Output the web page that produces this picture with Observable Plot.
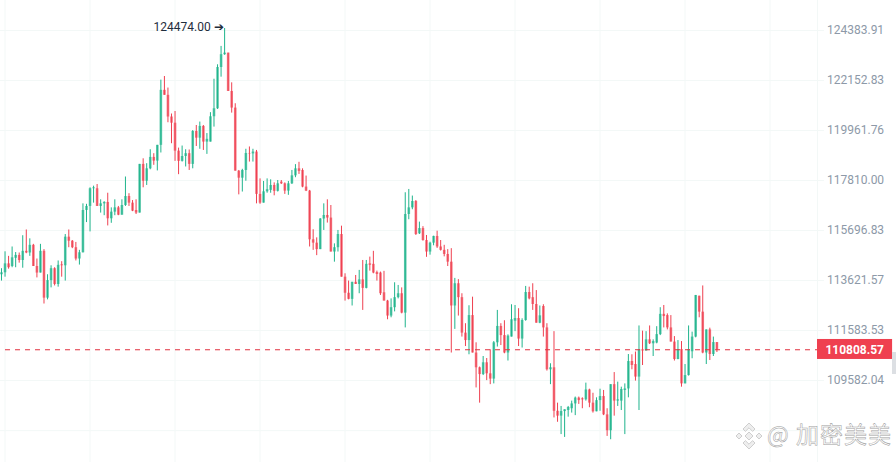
<!DOCTYPE html>
<html><head><meta charset="utf-8">
<script src="https://cdn.jsdelivr.net/npm/d3@7"></script>
<script src="https://cdn.jsdelivr.net/npm/@observablehq/plot@0.6"></script>
<style>
html,body{margin:0;padding:0;background:#fff;width:896px;height:462px;overflow:hidden}
#wrap{position:relative;width:896px;height:462px}
#wrap svg.plot{display:block}
#scroll{position:absolute;left:892px;top:352px;width:4px;height:22px;background:#dcdfe3}
#mark{position:absolute;left:767px;top:418px;font:23px/30px "Noto Sans CJK SC","Roboto",sans-serif;color:#fff;-webkit-text-stroke:0.5px #9d9d9d;letter-spacing:1px;white-space:nowrap}
#logo{position:absolute;left:735px;top:422px}
</style></head><body>
<div id="wrap">
<svg id="logo" width="28" height="28" viewBox="0 0 28 28"><g fill="#eeeeee" stroke="#c4c4c4" stroke-width=".8"><path d="M14 1l6 6-2.4 2.4L14 5.8l-3.6 3.6L8 7z"/><path d="M14 27l6-6-2.4-2.4-3.6 3.6-3.6-3.6L8 21z"/><path d="M1 14l3-3 3 3-3 3z"/><path d="M27 14l-3-3-3 3 3 3z"/><path d="M14 10l4 4-4 4-4-4z"/></g></svg>
<div id="mark">@ 加密美美</div>
<div id="scroll"></div>
</div>
<script>
const opens=[113860,113940,114310,114200,114540,114660,114450,114830,114760,115080,
114200,113930,114830,112900,113620,114110,113460,114270,114230,115420,
115250,114980,114510,114770,116540,116710,117460,117460,116710,116820,
116880,116190,116470,116650,116340,116750,117130,116850,116540,116430,
118500,117780,118310,118800,118640,119320,121720,121500,120550,120280,
119070,118630,118840,118960,118500,119920,119630,120140,119460,119460,
120560,120910,122730,123300,123370,121670,120940,118210,117910,118240,
118970,118950,119030,117220,116850,117330,117390,117600,117350,117740,
117670,117360,117670,118010,118310,118240,117530,117360,115310,115170,
114900,116180,116330,116220,114800,114980,115530,113760,113100,112850,
113550,113460,113650,113300,114310,114290,113950,113930,113120,112780,
112170,112510,112920,113080,112290,116370,116650,116920,115560,115780,
115280,114800,115170,115450,115010,114870,114700,114380,112580,113490,
112920,111480,111180,112190,110680,110090,109820,110290,109850,109640,
111090,111750,111380,110680,111320,111960,112070,111240,111990,113130,
112920,112640,111880,112560,111690,110010,110090,108370,108180,108360,
108400,108470,108660,108890,108860,108820,109210,108690,108350,108790,
108950,108230,107610,109420,108770,108770,109190,109250,110340,110220,
109720,110810,110760,111210,111050,111080,111420,112240,112190,111690,
111120,110420,110820,109450,109780,110730,111320,112980,112330,110680,
111610,110620,111100];
const closes=[113940,114310,114150,114560,114660,114450,114830,114760,115080,114200,
113930,114830,112900,113620,114110,113460,114250,114230,115420,115250,
114980,114510,114770,116540,116710,117460,117500,116710,116820,116880,
116190,116470,116650,116340,116750,117130,116850,116510,116430,118500,
117780,118310,118800,118640,119320,121720,121500,120550,120280,119070,
118630,118840,118960,118500,119920,119630,120140,119460,119580,120560,
120910,122730,123300,123370,121670,120940,118210,117910,118240,118970,
118950,119030,117220,116850,117330,117420,117600,117350,117670,117670,
117360,117670,118010,118310,118200,117530,117360,115310,115170,114900,
116180,116330,116220,114800,114980,115530,113760,113100,112850,113550,
113460,113650,113300,114290,114250,113930,113870,113080,112780,112170,
112510,112920,113080,112290,116370,116650,116920,115530,115780,115280,
114800,115170,115450,115010,114870,114700,114380,112580,113490,112920,
111480,111180,112190,110680,110090,109820,110290,109850,109640,111090,
111750,111380,110680,111360,112020,112070,111240,111990,113130,112870,
112640,111880,112180,111690,110010,110090,108370,108180,108360,108430,
108520,108660,108890,108790,108820,109210,108690,108350,108790,108950,
108230,107610,109420,108770,108820,109230,109250,110340,110180,109720,
110810,110760,111210,111050,111140,111420,112240,112150,111690,111120,
110420,110820,109450,109780,110820,111320,113010,112330,110680,111610,
110620,111100,110808.57];
const highs=[114110,114810,114620,115010,114780,114760,115480,115720,115350,115120,
114510,115120,114900,113860,114230,114150,114430,114400,115530,115720,
115280,115200,114870,116820,116800,117500,117570,117640,116990,116910,
117270,116650,116990,116710,116990,117960,117250,116960,116990,118500,
118740,118530,119130,118960,119320,122170,122330,121820,120680,120790,
119200,119290,119130,119120,119960,120180,120330,120180,119830,120740,
122210,122850,123670,124474,123370,122050,121130,118240,118290,119150,
119250,119150,119100,117880,117770,117880,117840,117710,117810,117810,
117710,117770,118240,118490,118590,118310,118000,117390,115730,115390,
116200,116820,116990,116750,115140,115700,115880,113900,113600,113550,
113830,114040,114450,114450,114590,114830,114010,113970,114000,112810,
112870,113530,113420,113320,117290,117430,117150,116960,116050,115860,
115490,115210,115460,115670,115280,115080,114900,114940,113710,113660,
113080,111860,112590,112940,111090,110120,110540,110460,110810,111140,
112400,111860,111980,111410,112630,112600,112470,112060,113380,113350,
113490,113210,112580,112630,111860,110250,111540,108690,108560,108430,
108560,108770,108930,108930,108900,109480,109240,109080,108900,109240,
109190,108470,109420,109900,109520,109320,109450,110620,110610,110720,
111770,111560,111540,111770,111210,111740,112510,112600,112260,112190,
111340,111180,111140,110220,111770,111520,113010,112980,113400,111610,
111680,111320,111100];
const lows=[113600,113760,114090,114150,114150,114340,114130,114730,114620,114200,
113730,113930,112660,112830,113320,113400,113350,113760,113600,114980,
114940,114430,114260,114760,116030,115640,116850,116710,116430,116320,
115890,116000,116320,116320,116340,116710,116710,116490,116370,116430,
117500,117600,118270,118460,118220,118990,121500,120300,119390,118630,
118060,118600,118390,118240,118310,119270,119150,119100,118930,119460,
120110,120880,122300,123270,121670,120720,118210,117200,117320,117780,
118600,118600,116820,116800,116850,117270,117270,117160,117320,117640,
117220,117180,117640,117930,118070,117500,117340,115010,114870,114650,
114900,115700,116010,114800,114380,114800,113760,112780,112830,112580,
113460,113080,112400,113280,114010,113900,113600,113010,112780,112020,
112100,112340,112870,112260,111690,116150,116570,115490,115530,115250,
114580,114670,115060,114950,114840,114600,114200,110680,111630,112170,
111320,110940,110610,110680,109290,108690,109780,109580,109420,109450,
110920,110980,110650,110360,111320,111540,110940,110880,111960,112830,
112400,111880,111860,111320,109960,109420,108110,107940,107460,107350,
108140,108300,108200,108640,108470,108770,108510,108300,108350,108370,
108200,107390,107260,108180,108560,108400,107460,108900,110010,109560,
108400,110180,110760,111020,110540,111050,111380,111690,111610,111120,
110360,110410,109320,109450,109760,110450,111290,112100,110650,110220,
110380,110540,110700];
const tickValues=[124383.91,122152.83,119961.76,117810.00,115696.83,113621.57,111583.53,109582.04];
const extraGrid=[107614];
const dayTicks=[1,25,49,73,97,121,145,169,193,217];
const allTimeHigh=124474, athIndex=63;
const lastPrice=110808.57;

const GREEN="#1fb48c", RED="#ef4050", GRID="#f3f8f7";
const candles=opens.map((o,i)=>({i,o,c:closes[i],h:highs[i],l:lows[i]}));
const col=d=>d.c>=d.o?GREEN:RED;

const chart=Plot.plot({
  width:896,height:462,
  marginTop:0,marginBottom:0,marginLeft:0,marginRight:79,
  style:{background:"transparent",fontFamily:"Roboto, sans-serif"},
  x:{type:"linear",domain:[-0.28,230.4],range:[0,817],axis:null},
  y:{type:"log",domain:[106380,125742],range:[462,0],axis:null},
  marks:[
    Plot.gridX(dayTicks,{stroke:GRID,strokeOpacity:1}),
    Plot.gridY(tickValues.concat(extraGrid),{stroke:GRID,strokeOpacity:1}),
    Plot.ruleX([230.4],{stroke:GRID}),
    Plot.axisY(tickValues,{anchor:"right",tickSize:6,tickPadding:3.5,stroke:GRID,fill:"#8d99a8",fontSize:12,tickFormat:d=>d.toFixed(2),label:null}),
    Plot.ruleX(candles,{x:"i",y1:"o",y2:"c",stroke:col,strokeWidth:2.6,strokeOpacity:0.7}),
    Plot.ruleX(candles,{x:"i",y1:"l",y2:"h",stroke:col,strokeWidth:1}),
    Plot.ruleY([lastPrice],{x1:1.13,x2:230.4,stroke:"#e2303f",strokeWidth:1.1,strokeDasharray:"5,5"}),
    Plot.rect([lastPrice],{x1:230.4,x2:251.6,y1:110422,y2:111224,fill:RED}),
    Plot.text([lastPrice],{x:240.9,y:d=>d,text:d=>d.toFixed(2),fill:"#fff",fontWeight:"bold",fontSize:12}),
    Plot.text([allTimeHigh],{x:athIndex,y:d=>d,text:d=>d.toFixed(2)+" ➔",textAnchor:"end",dx:-1,dy:-1,fill:"#1f2d3d",fontSize:12})
  ]
});
document.getElementById("wrap").prepend(chart);
</script>
</body></html>
